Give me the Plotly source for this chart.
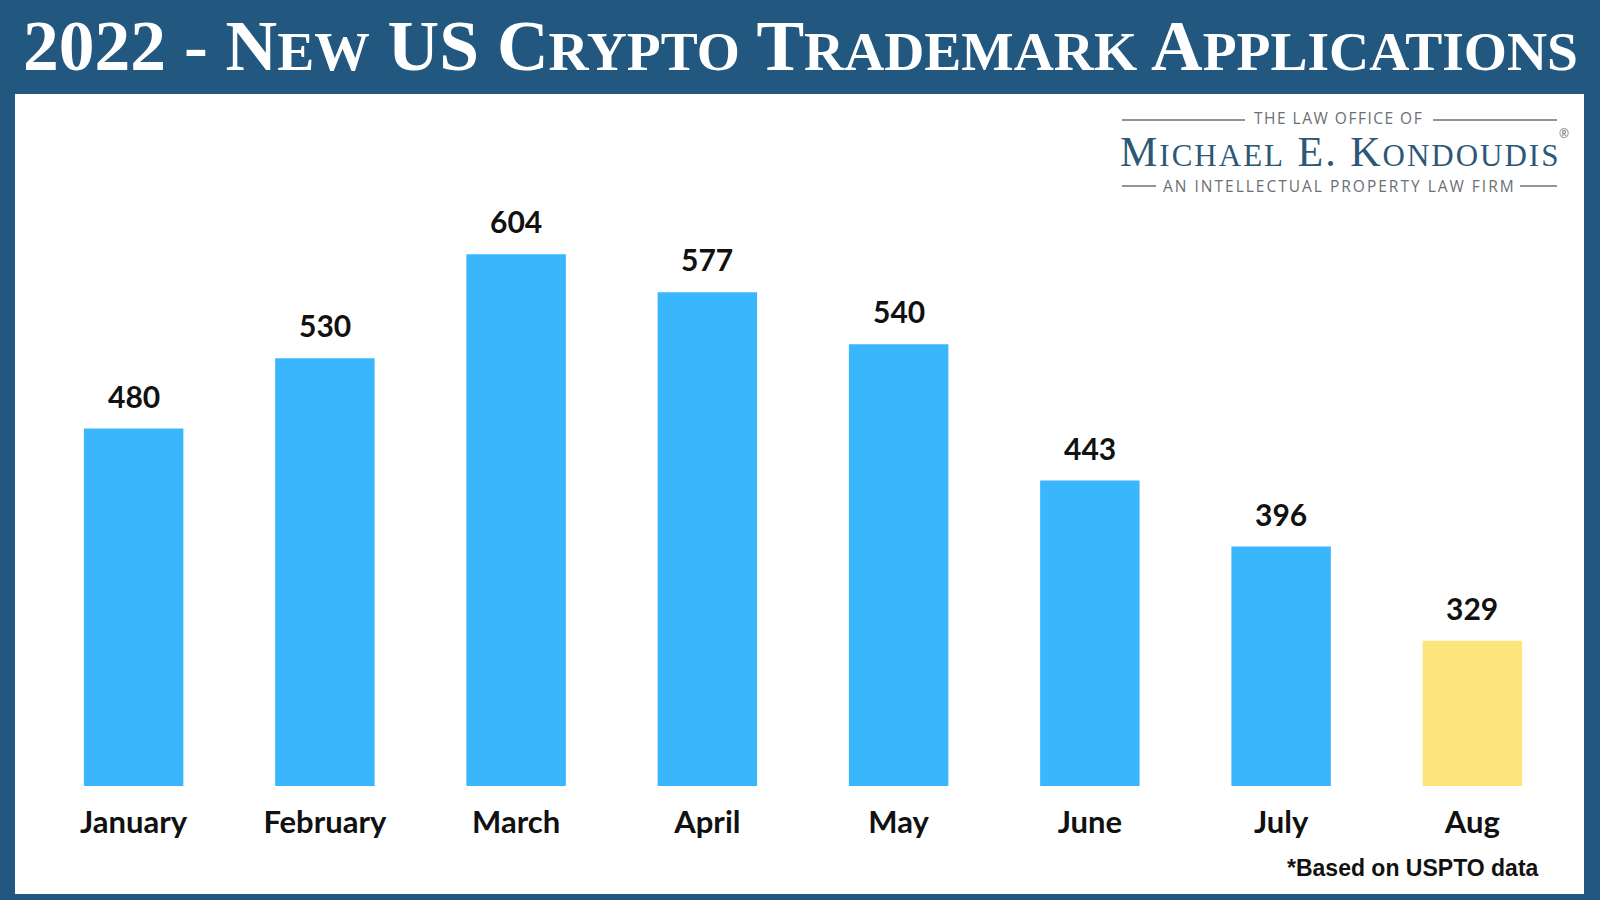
import plotly.graph_objects as go

# ---- data ----
months = ["January", "February", "March", "April", "May", "June", "July", "Aug"]
applications = [480, 530, 604, 577, 540, 443, 396, 329]
bar_colors = ["#3ab6fd"] * 7 + ["#fee47c"]

title_text = ("2022 - N<span style='font-size:55.5px'>EW</span> US "
              "C<span style='font-size:55.5px'>RYPTO</span> "
              "T<span style='font-size:55.5px'>RADEMARK</span> "
              "A<span style='font-size:55.5px'>PPLICATIONS</span>")
footnote = "*Based on USPTO data"

W, H = 1600, 900
BLUE = "#22577f"


def px_x(p):
    return p / W


def px_y(p):
    return (H - p) / H


fig = go.Figure()
fig.add_trace(go.Bar(
    x=months, y=applications,
    marker=dict(color=bar_colors, line=dict(width=0)),
    hoverinfo="x+y",
))

annotations = []
for m, v in zip(months, applications):
    annotations.append(dict(
        x=m, y=v, xref="x", yref="y", text=f"<b>{v}</b>", showarrow=False,
        yshift=33, yanchor="middle",
        font=dict(family="Lato, Open Sans, sans-serif", size=30, color="#111111"),
    ))

# title
annotations.append(dict(
    x=0.5, y=px_y(45), xref="paper", yref="paper", text=title_text,
    showarrow=False, xanchor="center", yanchor="middle",
    font=dict(family="Liberation Serif, Times New Roman, serif", size=71.5,
              color="white", weight="bold"),
))

# logo
grey = "#6b6f74"
logo_blue = "#2c5878"
annotations.append(dict(
    x=px_x(1338), y=px_y(118), xref="paper", yref="paper",
    text="<span style='letter-spacing:1.5px'>THE LAW OFFICE OF</span>",
    showarrow=False, xanchor="center", yanchor="middle",
    font=dict(family="Open Sans, Lato, sans-serif", size=15.5, color=grey),
))
annotations.append(dict(
    x=px_x(1340), y=px_y(151.5), xref="paper", yref="paper",
    text=("<span style='letter-spacing:2px'>M<span style='font-size:31px'>ICHAEL</span> E. "
          "K<span style='font-size:31px'>ONDOUDIS</span></span>"),
    showarrow=False, xanchor="center", yanchor="middle",
    font=dict(family="Liberation Serif, Times New Roman, serif", size=42, color=logo_blue),
))
annotations.append(dict(
    x=px_x(1564), y=px_y(133), xref="paper", yref="paper", text="®",
    showarrow=False, xanchor="center", yanchor="middle",
    font=dict(family="Open Sans, sans-serif", size=12, color=grey),
))
annotations.append(dict(
    x=px_x(1339), y=px_y(186), xref="paper", yref="paper",
    text="<span style='letter-spacing:2px'>AN INTELLECTUAL PROPERTY LAW FIRM</span>",
    showarrow=False, xanchor="center", yanchor="middle",
    font=dict(family="Open Sans, Lato, sans-serif", size=15.5, color=grey),
))

# footnote
annotations.append(dict(
    x=px_x(1541), y=px_y(868), xref="paper", yref="paper", text=f"<b>{footnote}</b>",
    showarrow=False, xanchor="right", yanchor="middle",
    font=dict(family="Liberation Sans, Arial, sans-serif", size=23, color="#111111"),
))

shapes = [
    dict(type="rect", xref="paper", yref="paper",
         x0=px_x(15), x1=px_x(1584), y0=px_y(894), y1=px_y(94),
         fillcolor="white", line=dict(width=0), layer="below"),
]
for (x0, x1, y) in [(1122, 1245, 120), (1433, 1557, 120), (1122, 1156, 186), (1520, 1557, 186)]:
    shapes.append(dict(type="line", xref="paper", yref="paper",
                       x0=px_x(x0), x1=px_x(x1), y0=px_y(y), y1=px_y(y),
                       line=dict(color=grey, width=1.3)))

fig.update_layout(
    width=W, height=H,
    margin=dict(l=0, r=0, t=0, b=0),
    paper_bgcolor=BLUE,
    plot_bgcolor="rgba(0,0,0,0)",
    showlegend=False,
    bargap=0.48,
    annotations=annotations,
    shapes=shapes,
    xaxis=dict(
        domain=[px_x(38), px_x(1568)],
        range=[-0.5, 7.5],
        showgrid=False, zeroline=False, showline=False,
        ticks="", ticklabelstandoff=15,
        tickfont=dict(family="Lato, Open Sans, sans-serif", size=31, color="#111111",
                      weight="bold"),
    ),
    yaxis=dict(
        domain=[px_y(786), px_y(200)],
        range=[225.7, 642.6],
        visible=False,
    ),
)

fig.write_html("out.html")
